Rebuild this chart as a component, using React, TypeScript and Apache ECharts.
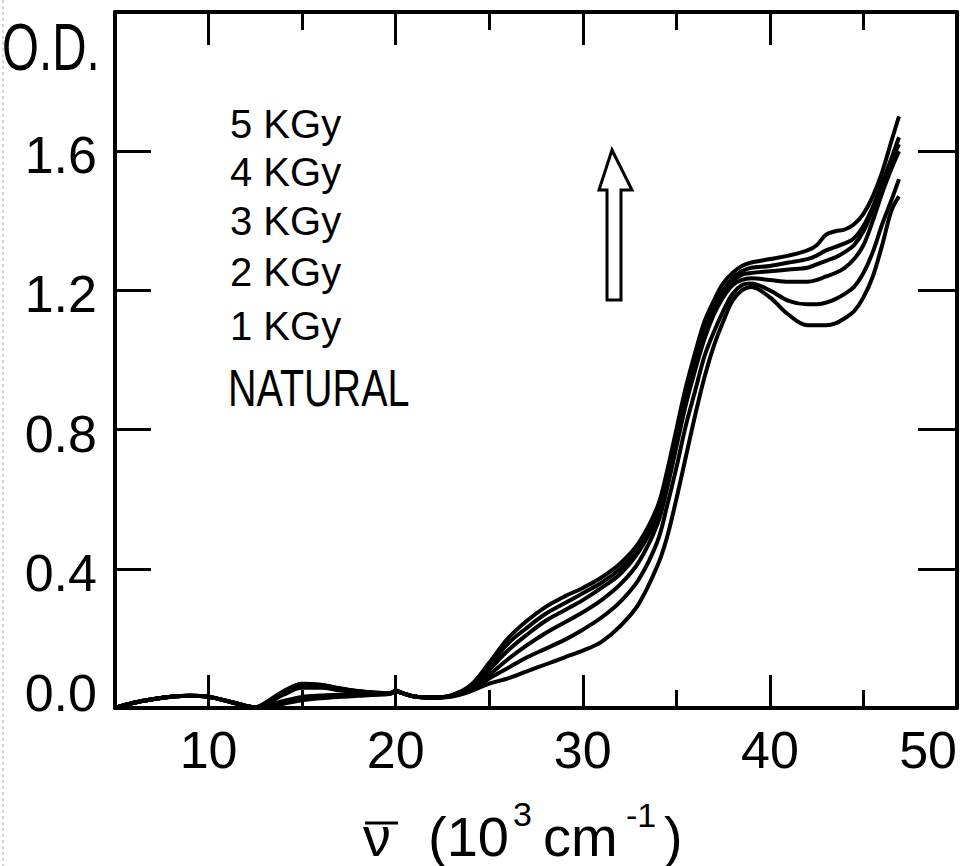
import React, { useEffect, useRef } from 'react';
import * as echarts from 'echarts';

// wavenumber (10^3 cm^-1)
const wavenumber = [5, 6, 7, 8, 9, 10, 11, 12, 12.5, 13, 14, 15, 16, 17, 18, 19, 19.7, 20, 20.4, 21, 22, 23,
  24, 25, 26, 27, 28, 29, 30, 31, 32, 33,
  34, 34.5, 35, 35.5, 36, 36.5, 37, 37.5, 38, 38.5, 39, 40, 41, 42, 42.5, 43, 43.5, 44, 44.5, 45, 45.5, 46, 46.5, 46.9];

const kgy5 = [0, 0.015, 0.025, 0.032, 0.035, 0.032, 0.02, 0.006, 0.002, 0.014, 0.048, 0.07, 0.067, 0.057, 0.049, 0.044, 0.043, 0.05, 0.042, 0.033, 0.03, 0.037,
  0.065, 0.13, 0.2, 0.25, 0.29, 0.32, 0.345, 0.375, 0.415, 0.475,
  0.58, 0.68, 0.8, 0.92, 1.02, 1.11, 1.17, 1.22, 1.25, 1.27, 1.28, 1.29, 1.3, 1.315, 1.33, 1.36, 1.37, 1.375, 1.39, 1.42, 1.47, 1.54, 1.63, 1.7];
const kgy4 = [0, 0.015, 0.025, 0.032, 0.035, 0.032, 0.02, 0.006, 0.002, 0.013, 0.046, 0.068, 0.066, 0.056, 0.048, 0.044, 0.043, 0.05, 0.042, 0.033, 0.03, 0.036,
  0.062, 0.12, 0.185, 0.23, 0.27, 0.3, 0.33, 0.36, 0.4, 0.46,
  0.56, 0.66, 0.78, 0.9, 1.0, 1.09, 1.15, 1.2, 1.235, 1.255, 1.265, 1.27, 1.28, 1.29, 1.3, 1.315, 1.325, 1.335, 1.35, 1.385, 1.44, 1.51, 1.58, 1.64];
const kgy3 = [0, 0.015, 0.025, 0.032, 0.035, 0.032, 0.02, 0.006, 0.002, 0.012, 0.044, 0.066, 0.064, 0.055, 0.047, 0.043, 0.042, 0.049, 0.042, 0.033, 0.03, 0.035,
  0.058, 0.11, 0.165, 0.21, 0.25, 0.28, 0.31, 0.345, 0.385, 0.45,
  0.55, 0.65, 0.77, 0.89, 0.99, 1.08, 1.14, 1.19, 1.225, 1.245, 1.25, 1.255, 1.26, 1.265, 1.275, 1.285, 1.295, 1.31, 1.33, 1.37, 1.43, 1.5, 1.57, 1.62];
const kgy2 = [0, 0.015, 0.025, 0.032, 0.035, 0.032, 0.02, 0.006, 0.002, 0.01, 0.038, 0.058, 0.058, 0.051, 0.045, 0.042, 0.042, 0.048, 0.042, 0.033, 0.03, 0.035,
  0.055, 0.095, 0.14, 0.18, 0.215, 0.245, 0.275, 0.31, 0.355, 0.42,
  0.53, 0.63, 0.75, 0.87, 0.97, 1.06, 1.13, 1.18, 1.215, 1.23, 1.235, 1.23, 1.225, 1.225, 1.23, 1.24, 1.25, 1.265, 1.29, 1.33, 1.4, 1.48, 1.55, 1.6];
const kgy1 = [0, 0.015, 0.025, 0.032, 0.035, 0.032, 0.02, 0.006, 0.002, 0.005, 0.02, 0.032, 0.036, 0.038, 0.038, 0.039, 0.041, 0.048, 0.042, 0.033, 0.03, 0.034,
  0.052, 0.085, 0.115, 0.145, 0.17, 0.195, 0.225, 0.26, 0.305, 0.37,
  0.48, 0.58, 0.69, 0.81, 0.91, 1.01, 1.08, 1.14, 1.19, 1.215, 1.22, 1.2, 1.17, 1.16, 1.16, 1.165, 1.175, 1.19, 1.21, 1.25, 1.31, 1.39, 1.46, 1.52];
const natural = [0, 0.015, 0.025, 0.032, 0.035, 0.032, 0.02, 0.006, 0.002, 0.003, 0.012, 0.022, 0.028, 0.032, 0.035, 0.038, 0.041, 0.048, 0.042, 0.033, 0.03, 0.033,
  0.048, 0.07, 0.085, 0.105, 0.125, 0.145, 0.165, 0.19, 0.235, 0.3,
  0.41, 0.49, 0.6, 0.72, 0.84, 0.95, 1.04, 1.11, 1.17, 1.2, 1.21, 1.18, 1.13, 1.1, 1.1, 1.1, 1.105, 1.12, 1.14, 1.18, 1.24, 1.33, 1.43, 1.47];

const seriesNames = ['5 KGy', '4 KGy', '3 KGy', '2 KGy', '1 KGy', 'NATURAL'];
const seriesValues = [kgy5, kgy4, kgy3, kgy2, kgy1, natural];

const xMajorTicks = [10, 20, 30, 40, 50];
const xMinorTicks = [15, 25, 35, 45];
const yTickLabels = ['0.0', '0.4', '0.8', '1.2', '1.6'];

const FONT = 'Liberation Sans, Arial, Helvetica, sans-serif';

const txt = (text: string, x: number, y: number, fontSize: number, extra: any = {}) => ({
  type: 'text', x, y, ...extra,
  style: {
    text, fontSize, fontFamily: FONT, fill: '#000', lineHeight: Math.round(fontSize * 0.8),
    align: 'left', verticalAlign: 'middle', textAlign: 'left', textVerticalAlign: 'middle',
  },
});

export default function App() {
  const ref = useRef<HTMLDivElement>(null);
  useEffect(() => {
    const chart = echarts.init(ref.current!, null, { renderer: 'svg' });
    const axisLine = { show: true, lineStyle: { color: '#000', width: 4 } };
    const xBase = { type: 'value', min: 5, max: 50, gridIndex: 0, splitLine: { show: false } };
    const legendYs = [124, 172, 221, 272, 326];
    const option: any = {
      animation: false,
      backgroundColor: '#fff',
      grid: { left: 115, right: 9, top: 12, bottom: 158, containLabel: false, outerBoundsMode: 'none' },
      xAxis: [
        {
          ...xBase, position: 'bottom', axisLine,
          axisTick: { show: true, inside: true, length: 33, customValues: xMajorTicks, lineStyle: { color: '#000', width: 3 } },
          axisLabel: {
            show: true, customValues: xMajorTicks, fontSize: 52, lineHeight: 52, margin: 16, color: '#000', fontFamily: FONT,
            alignMaxLabel: 'right',
          },
        },
        {
          ...xBase, position: 'bottom', axisLine: { show: false },
          axisTick: { show: true, inside: true, length: 18, customValues: xMinorTicks, lineStyle: { color: '#000', width: 3 } },
          axisLabel: { show: false },
        },
        {
          ...xBase, position: 'top', axisLine,
          axisTick: { show: true, inside: true, length: 33, customValues: xMajorTicks, lineStyle: { color: '#000', width: 3 } },
          axisLabel: { show: false },
        },
        {
          ...xBase, position: 'top', axisLine: { show: false },
          axisTick: { show: true, inside: true, length: 18, customValues: xMinorTicks, lineStyle: { color: '#000', width: 3 } },
          axisLabel: { show: false },
        },
      ],
      yAxis: [
        {
          type: 'value', min: 0, max: 2, interval: 0.4, position: 'left', axisLine,
          splitLine: { show: false },
          axisTick: { show: true, inside: true, length: 36, lineStyle: { color: '#000', width: 3 } },
          axisLabel: {
            show: true, margin: 18, color: '#000', fontSize: 52, fontFamily: FONT,
            formatter: (v: number) => {
              const i = Math.round(v / 0.4);
              if (i >= yTickLabels.length) return '';
              return i === 0 ? '{z|' + yTickLabels[i] + '}' : '{a|' + yTickLabels[i] + '}';
            },
            rich: {
              a: { fontSize: 52, fontFamily: FONT, color: '#000', padding: [8, 0, 0, 0] },
              z: { fontSize: 52, fontFamily: FONT, color: '#000', padding: [0, 0, 30, 0] },
            },
          },
        },
        {
          type: 'value', min: 0, max: 2, interval: 0.4, position: 'right', axisLine,
          splitLine: { show: false },
          axisTick: { show: true, inside: true, length: 39, lineStyle: { color: '#000', width: 3 } },
          axisLabel: { show: false },
        },
      ],
      series: seriesNames.map((name, k) => ({
        name,
        type: 'line',
        xAxisIndex: 0,
        yAxisIndex: 0,
        smooth: 0.35,
        symbol: 'none',
        lineStyle: { color: '#000', width: 4 },
        data: wavenumber.map((x, i) => [x, seriesValues[k][i]]),
      })),
      graphic: [
        { type: 'line', shape: { x1: 3, y1: 0, x2: 3, y2: 866 }, style: { stroke: '#aaa', lineWidth: 1, lineDash: [3, 3] } },
        txt('O.D.', 2, 47, 66, { scaleX: 0.72 }),
        ...seriesNames.slice(0, 5).map((name, i) => txt(name, 230, legendYs[i], 40)),
        txt(seriesNames[5], 228, 388, 52, { scaleX: 0.76 }),
        {
          type: 'polygon',
          shape: { points: [[612, 150], [632, 190], [621, 190], [621, 300], [607, 300], [607, 190], [599, 190]] },
          style: { fill: '#fff', stroke: '#000', lineWidth: 3 },
        },
        // axis title
        txt('ν', 363, 836, 56),
        { type: 'line', shape: { x1: 365, y1: 823, x2: 398, y2: 823 }, style: { stroke: '#000', lineWidth: 3 } },
        txt('(10', 428, 836, 56),
        txt('3', 513, 814, 34),
        txt('cm', 543, 836, 56),
        txt('-1', 626, 815, 34),
        txt(')', 664, 836, 56),
      ],
    };
    chart.setOption(option);
    return () => chart.dispose();
  }, []);
  return <div ref={ref} style={{ position: 'fixed', left: 0, top: 0, width: 966, height: 866 }} />;
}
